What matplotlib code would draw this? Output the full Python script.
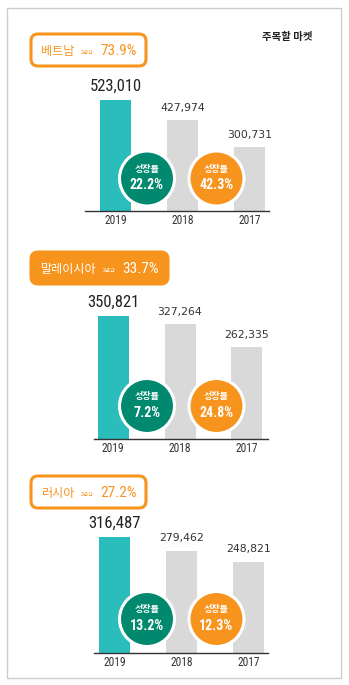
import matplotlib
matplotlib.use('Agg')
import matplotlib.pyplot as plt
from matplotlib.patches import Circle, FancyBboxPatch, Rectangle
from matplotlib import font_manager

# ---------------- data ----------------
title = '주목할 마켓'
countries = ['베트남', '말레이시아', '러시아']
period_label = '2년간'
total_growth = [73.9, 33.7, 27.2]
years = ['2019', '2018', '2017']
vietnam = [523010, 427974, 300731]
malaysia = [350821, 327264, 262335]
russia = [316487, 279462, 248821]
growth_label = '성장률'
growth_2019 = [22.2, 7.2, 13.2]   # 2018 -> 2019
growth_2018 = [42.3, 24.8, 12.3]  # 2017 -> 2018

series = [vietnam, malaysia, russia]

# ---------------- style ----------------
W, H, DPI = 349, 685, 100
TEAL = '#2ABDBB'
GRAY = '#D9D9D9'
GREEN = '#00896F'
ORANGE = '#F7941E'
DARK = '#222222'

names = {f.name for f in font_manager.fontManager.ttflist}
NARROW = 'Roboto Condensed' if 'Roboto Condensed' in names else 'Liberation Sans'
KR = ['Noto Sans CJK KR', 'DejaVu Sans']

fig = plt.figure(figsize=(W / DPI, H / DPI), dpi=DPI)
fig.patch.set_facecolor('white')


def fr(x0, y0, x1, y1):
    return [x0 / W, 1 - y1 / H, (x1 - x0) / W, (y1 - y0) / H]


layout = [
    dict(top=34, bw=115, filled=False, base=211, maxh=111, left=85, right=269, c0=115.5, cy=178.5),
    dict(top=252, bw=137, filled=True, base=439, maxh=123, left=94, right=268, c0=113.0, cy=406.0),
    dict(top=476, bw=115, filled=False, base=653, maxh=116, left=94, right=268, c0=114.5, cy=619.0),
]
STEP = 67.0
BARW = 31.0

# overlay axes in pixel coordinates
ov = fig.add_axes([0, 0, 1, 1], zorder=10)
ov.set_xlim(0, W)
ov.set_ylim(H, 0)
ov.axis('off')
ov.patch.set_alpha(0)

ov.add_patch(Rectangle((7, 8), 334, 670, fill=False, ec='#CCCCCC', lw=1.0))
ov.text(312, 37, title, ha='right', va='center', family=KR, fontsize=7.5,
        fontweight='bold', color=DARK)

fig.canvas.draw()
renderer = fig.canvas.get_renderer()

for k, (vals, L) in enumerate(zip(series, layout)):
    ax = fig.add_axes(fr(L['left'], L['base'] - L['maxh'], L['right'], L['base']), zorder=1)
    x0 = -(L['c0'] - L['left']) / STEP
    x1 = 2 + (L['right'] - (L['c0'] + 2 * STEP)) / STEP
    ax.bar(range(len(years)), vals, width=BARW / STEP,
           color=[TEAL, GRAY, GRAY], zorder=2)
    ax.set_xlim(x0, x1)
    ax.set_ylim(0, max(vals))
    for s in ['top', 'left', 'right']:
        ax.spines[s].set_visible(False)
    ax.spines['bottom'].set_color('#333333')
    ax.spines['bottom'].set_linewidth(1.0)
    ax.set_yticks([])
    ax.set_xticks(range(len(years)))
    ax.set_xticklabels(years, fontfamily=NARROW, fontsize=8.3, color='#333333')
    ax.tick_params(axis='x', length=0, pad=2.5)
    ax.patch.set_alpha(0)
    for i, v in enumerate(vals):
        if i == 0:
            ax.annotate(f'{v:,}', (i, v), xytext=(0, 9.8), textcoords='offset points',
                        ha='center', va='center', family=NARROW, fontsize=12,
                        fontweight='normal', color=DARK, annotation_clip=False)
        else:
            ax.annotate(f'{v:,}', (i, v), xytext=(0, 9.0), textcoords='offset points',
                        ha='center', va='center', family='DejaVu Sans', fontsize=7.8,
                        color='#333333', annotation_clip=False)

    # badge
    top = L['top']
    if L['filled']:
        fc, ec, tc = ORANGE, ORANGE, 'white'
    else:
        fc, ec, tc = 'white', ORANGE, ORANGE
    ov.add_patch(FancyBboxPatch((31, top), L['bw'], 32,
                                boxstyle='round,pad=0,rounding_size=7',
                                fc=fc, ec=ec, lw=2.2))
    ty = top + 17
    t1 = ov.text(41, ty, countries[k], ha='left', va='center', family=KR,
                 fontsize=8.7, fontweight='medium', color=tc)
    bb = t1.get_window_extent(renderer)
    t2 = ov.text(bb.x1 + 6, ty + 1, period_label, ha='left', va='center', family=KR,
                 fontsize=3.8, color=tc)
    bb2 = t2.get_window_extent(renderer)
    ov.text(bb2.x1 + 7, ty, f'{total_growth[k]:.1f}%', ha='left', va='center',
            family=NARROW, fontsize=11, color=tc)

    # growth circles
    for cx, col, g in [(147, GREEN, growth_2019[k]), (216.5, ORANGE, growth_2018[k])]:
        ov.add_patch(Circle((cx, L['cy']), 27.5, fc=col, ec='white', lw=2.2, zorder=5))
        ov.text(cx, L['cy'] - 9.5, growth_label, ha='center', va='center', family=KR,
                fontsize=6.5, fontweight='bold', color='white', zorder=6)
        ov.text(cx, L['cy'] + 6.5, f'{g:.1f}%', ha='center', va='center', family=NARROW,
                fontsize=10, fontweight='bold', color='white', zorder=6)

fig.savefig('out.png', dpi=DPI)
